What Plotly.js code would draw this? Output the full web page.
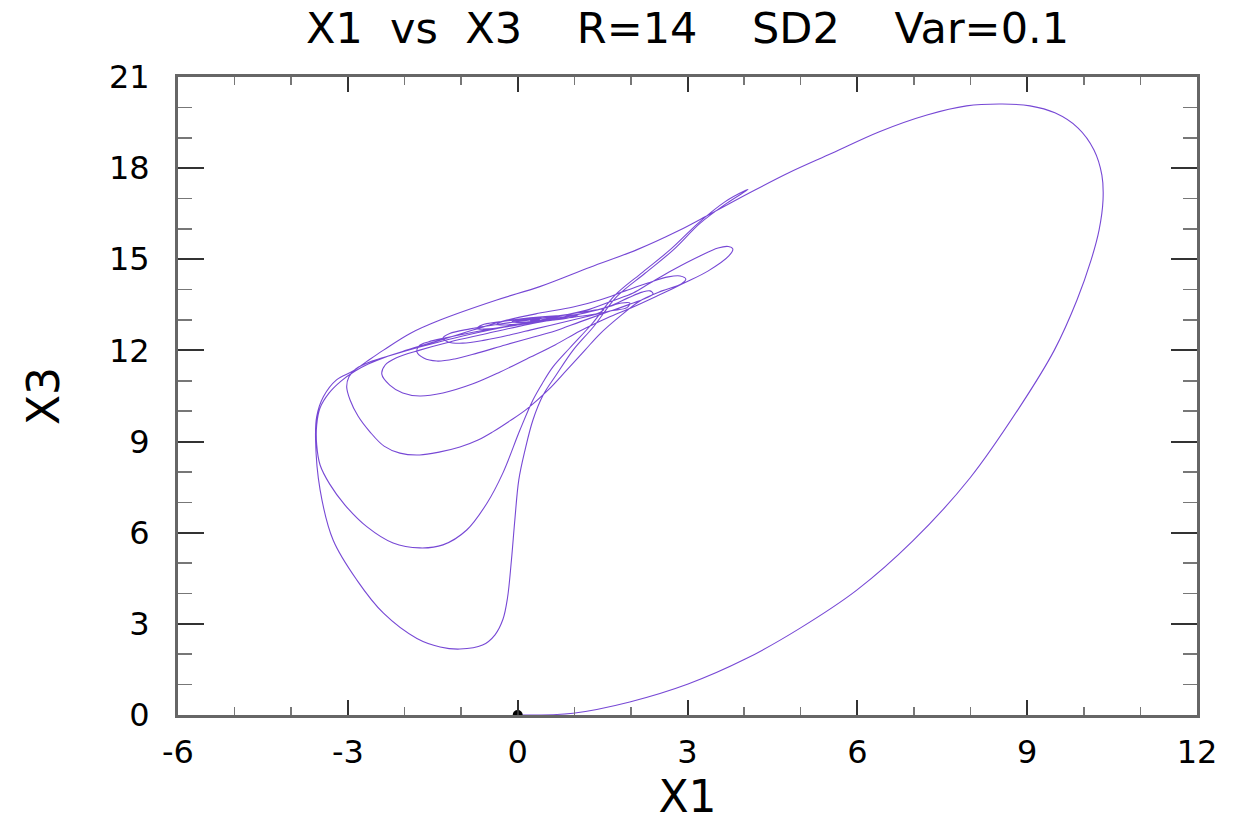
<!DOCTYPE html>
<html>
<head>
<meta charset="utf-8">
<script src="https://cdn.plot.ly/plotly-3.0.1.min.js"></script>
<style>
  html, body { margin: 0; padding: 0; background: #ffffff; }
  #chart { width: 1241px; height: 822px; }
</style>
</head>
<body>
<div id="chart"></div>
<script>
// ---- Trajectory (X1, X3) ----
// Transient: origin -> large outer loop -> first left U -> spike
const x1Transient = [0.00,0.98,1.98,3.01,4.02,4.99,5.99,6.98,7.99,8.89,9.48,9.88,10.13,10.27,10.34,10.32,10.18,9.90,9.49,9.05,8.56,7.93,7.23,6.39,5.55,4.78,4.09,3.40,2.83,2.10,1.28,0.39,-0.37,-1.37,-1.90,-2.37,-2.67,-2.90,-3.20,-3.43,-3.55,-3.57,-3.49,-3.26,-2.84,-2.37,-1.78,-1.37,-1.02,-0.62,-0.40,-0.26,-0.18,-0.11,-0.05,0.02,0.13,0.27,0.45,0.68,0.98,1.34,1.75,2.25,2.75,3.22,3.69,4.07];
const x3Transient = [0.00,0.06,0.43,1.02,1.84,2.86,4.11,5.73,7.80,10.20,12.01,13.66,14.98,15.96,16.95,17.77,18.60,19.32,19.82,20.05,20.11,20.05,19.75,19.20,18.49,17.84,17.18,16.49,15.93,15.31,14.74,14.10,13.66,13.00,12.56,12.01,11.63,11.33,11.03,10.48,9.82,9.05,7.41,5.76,4.44,3.35,2.52,2.24,2.17,2.30,2.64,3.15,3.85,5.10,6.42,7.74,8.72,9.71,10.53,11.19,12.01,12.78,13.77,14.54,15.31,16.18,16.84,17.30];

// Return from spike through the second left U
const x1Loop2 = [4.03,3.66,3.19,2.71,2.21,1.72,1.31,0.92,0.62,0.45,0.27,0.04,-0.26,-0.54,-0.90,-1.32,-1.73,-2.20,-2.66,-3.05,-3.32,-3.49,-3.55,-3.55,-3.49,-3.33,-3.12,-2.87];
const x3Loop2 = [17.27,16.89,16.19,15.34,14.58,13.82,12.87,12.08,11.45,10.96,10.37,9.38,7.97,6.98,6.09,5.60,5.50,5.66,6.19,6.91,7.60,8.23,8.89,9.55,10.11,10.60,10.99,11.32];

// Band -> right lobe (tip near 2.9) -> third left U
const x1Loop3 = [-2.64,-2.34,-1.96,-1.37,-0.79,-0.19,0.39,0.98,1.45,1.90,2.30,2.66,2.87,2.97,2.89,2.55,2.16,1.81,1.45,1.19,0.87,0.54,0.16,-0.14,-0.44,-0.70,-1.02,-1.37,-1.73,-2.08,-2.36,-2.61,-2.82,-2.96,-3.02,-2.98,-2.86];
const x3Loop3 = [11.55,11.78,12.01,12.34,12.67,13.00,13.23,13.43,13.66,13.96,14.22,14.42,14.45,14.35,14.19,13.96,13.63,13.13,12.54,12.01,11.36,10.70,10.07,9.68,9.32,9.05,8.82,8.66,8.56,8.62,8.85,9.32,9.84,10.37,10.80,11.13,11.39];

// Band -> right lobe (tip near 3.8) -> fourth left U
const x1Loop4 = [-2.57,-2.22,-1.73,-1.11,-0.49,0.13,0.75,1.28,1.67,2.04,2.34,2.74,3.22,3.54,3.72,3.80,3.73,3.36,2.92,2.46,2.04,1.58,1.10,0.66,0.16,-0.31,-0.79,-1.32,-1.73,-2.03,-2.26,-2.40,-2.34,-2.15];
const x3Loop4 = [11.65,11.85,12.11,12.41,12.67,12.90,13.13,13.36,13.63,13.89,14.22,14.65,15.11,15.37,15.42,15.34,15.11,14.61,14.20,13.79,13.43,13.07,12.64,12.18,11.72,11.29,10.90,10.60,10.50,10.60,10.86,11.22,11.52,11.75];

// Decaying inner spiral converging near (0, 13)
const x1Inner = [-1.73,-1.20,-0.58,0.04,0.66,1.19,1.63,1.95,2.20,2.34,2.39,2.25,1.95,1.54,1.10,0.66,0.22,-0.22,-0.70,-1.11,-1.43,-1.66,-1.78,-1.74,-1.58,-1.20,-0.67,-0.05,0.57,1.10,1.54,1.84,1.98,1.93,1.63,1.19,0.75,0.31,-0.14,-0.58,-0.97,-1.23,-1.32,-1.20,-0.84,-0.31,0.31,0.84,1.28,1.52,1.42,1.01,0.48,-0.05,-0.49,-0.72,-0.63,-0.28,0.22,0.75,1.07,0.85,0.39,-0.10,-0.37,-0.26,0.18,0.63,0.71,0.36,-0.01,-0.10,0.13,0.39,0.22];
const x3Inner = [12.01,12.28,12.54,12.80,13.03,13.23,13.46,13.73,13.92,13.96,13.86,13.71,13.50,13.23,12.94,12.64,12.41,12.18,11.92,11.72,11.65,11.75,11.95,12.15,12.28,12.44,12.64,12.84,13.03,13.20,13.40,13.56,13.56,13.41,13.30,13.10,12.90,12.71,12.51,12.34,12.24,12.28,12.41,12.56,12.71,12.87,13.03,13.17,13.30,13.35,13.22,13.10,12.97,12.82,12.71,12.72,12.84,12.95,13.07,13.15,13.17,13.05,12.95,12.85,12.85,12.95,13.03,13.08,13.02,12.97,12.92,12.95,13.00,13.02,12.98];

// Starting point marker
const startX1 = [0];
const startX3 = [0];

// Axis ticks
const xTickVals = [-6, -3, 0, 3, 6, 9, 12];
const xTickText = ['-6', '-3', '0', '3', '6', '9', '12'];
const yTickVals = [0, 3, 6, 9, 12, 15, 18, 21];
const yTickText = ['0', '3', '6', '9', '12', '15', '18', '21'];

const NB = '\u00a0';
const chartTitle = 'X1' + NB.repeat(2) + 'vs' + NB.repeat(2) + 'X3' + NB.repeat(4) +
                   'R=14' + NB.repeat(4) + 'SD2' + NB.repeat(4) + 'Var=0.1';

const x1All = [].concat(x1Transient, x1Loop2, x1Loop3, x1Loop4, x1Inner);
const x3All = [].concat(x3Transient, x3Loop2, x3Loop3, x3Loop4, x3Inner);

const traces = [
  {
    x: x1All, y: x3All,
    type: 'scatter', mode: 'lines',
    line: { color: '#7748d5', width: 1.1, shape: 'spline', smoothing: 1 },
    hoverinfo: 'skip', showlegend: false
  },
  {
    x: startX1, y: startX3,
    type: 'scatter', mode: 'markers',
    marker: { color: '#000000', size: 10 },
    cliponaxis: true, hoverinfo: 'skip', showlegend: false
  }
];

const tickFont = { family: 'DejaVu Sans, sans-serif', size: 32, color: '#000000' };
const axisTitleFont = { family: 'DejaVu Sans, sans-serif', size: 44, color: '#000000' };

const layout = {
  width: 1241, height: 822,
  paper_bgcolor: '#ffffff', plot_bgcolor: '#ffffff',
  margin: { l: 178, r: 44, t: 77, b: 107 },
  showlegend: false,
  title: {
    text: chartTitle,
    font: { family: 'DejaVu Sans, sans-serif', size: 43, color: '#000000' },
    x: 0.5, xref: 'paper', xanchor: 'center',
    y: 0.966, yref: 'container', yanchor: 'middle'
  },
  xaxis: {
    range: [-6, 12], tickmode: 'array', tickvals: xTickVals, ticktext: xTickText,
    ticks: 'inside', ticklen: 15, tickwidth: 2, tickcolor: '#333333',
    showline: true, linecolor: '#666666', linewidth: 3, mirror: 'ticks',
    showgrid: false, zeroline: false,
    tickfont: tickFont, ticklabelstandoff: 7,
    minor: { dtick: 1, tick0: 0, ticks: 'inside', ticklen: 8, tickwidth: 1.5, tickcolor: '#777777', showgrid: false },
    title: { text: 'X1', font: axisTitleFont, standoff: 19 }
  },
  yaxis: {
    range: [0, 21], tickmode: 'array', tickvals: yTickVals, ticktext: yTickText,
    ticks: 'inside', ticklen: 26, tickwidth: 2, tickcolor: '#333333',
    showline: true, linecolor: '#666666', linewidth: 3, mirror: 'ticks',
    showgrid: false, zeroline: false,
    tickfont: tickFont, ticklabelstandoff: 19,
    minor: { dtick: 1, tick0: 0, ticks: 'inside', ticklen: 14, tickwidth: 1.5, tickcolor: '#777777', showgrid: false },
    title: { text: 'X3', font: axisTitleFont, standoff: 36 }
  }
};

Plotly.newPlot('chart', traces, layout, { staticPlot: true, displayModeBar: false });
</script>
</body>
</html>
